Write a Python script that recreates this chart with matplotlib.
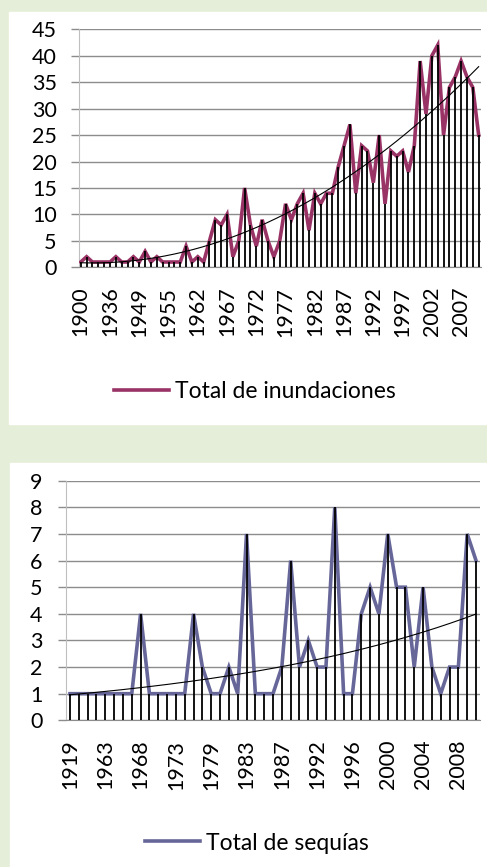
import numpy as np
import matplotlib
matplotlib.use("Agg")
import matplotlib.pyplot as plt
from matplotlib.patches import Rectangle

plt.rcParams['font.family'] = ['Lato', 'DejaVu Sans']

# --- datos: inundaciones ---
anios_inund = [1900, 1910, 1920, 1926, 1932, 1936, 1939, 1942, 1944, 1946,
               1949, 1950, 1951, 1952, 1953, 1955, 1956, 1958, 1959, 1960] + list(range(1962, 2011))
total_inund = [1, 2, 1, 1, 1, 1, 2, 1, 1, 2,
               1, 3, 1, 2, 1, 1, 1, 1, 4, 1,
               2, 1, 5, 9, 8, 10, 2, 5, 15, 8,
               4, 9, 5, 2, 5, 12, 9, 12, 14, 7,
               14, 12, 14, 14, 19, 23, 27, 14, 23, 22,
               16, 25, 12, 22, 21, 22, 18, 23, 39, 29,
               40, 42, 25, 34, 36, 39, 36, 34, 25]

# --- datos: sequias ---
anios_seq = [1919, 1925, 1946, 1956, 1963, 1964, 1965, 1966, 1968, 1969,
             1970, 1971, 1973, 1974, 1976, 1977, 1979, 1980, 1981, 1982,
             1983, 1984, 1985, 1986, 1987, 1988, 1989, 1990, 1992, 1993,
             1994, 1995, 1996, 1997, 1998, 1999, 2000, 2001, 2002, 2003,
             2004, 2005, 2006, 2007, 2008, 2009, 2010]
total_seq = [1, 1, 1, 1, 1, 1, 1, 1, 4, 1,
             1, 1, 1, 1, 4, 2, 1, 1, 2, 1,
             7, 1, 1, 1, 2, 6, 2, 3, 2, 2,
             8, 1, 1, 4, 5, 4, 7, 5, 5, 2,
             5, 2, 1, 2, 2, 7, 6]

VERDE = '#E5EED8'
GRIS = '#8C8C8C'

fig = plt.figure(figsize=(4.87, 8.67), dpi=100, facecolor=VERDE)
fig.patches.append(Rectangle((9 / 487, 1 - 424 / 867), 1, 412 / 867,
                             transform=fig.transFigure, color='white', zorder=-10))
fig.patches.append(Rectangle((10 / 487, 0), 1, (867 - 463) / 867,
                             transform=fig.transFigure, color='white', zorder=-10))


def panel(rect, anios, valores, color, ymax, paso, cada, xlim, tendencia, etiqueta, ley_pos, ypad):
    ax = fig.add_axes(rect)
    ax.set_facecolor('none')
    x = np.arange(len(valores))
    v = np.array(valores, dtype=float)

    ax.plot(x, v, color=color, lw=2.6, solid_joinstyle='miter', zorder=3, label=etiqueta)
    ax.vlines(x, 0, v, color='black', lw=1.3, zorder=4)

    # linea de tendencia (como en Excel)
    xx = np.linspace(0, len(v) - 1, 300)
    if tendencia == 'poly':
        c = np.polyfit(x, v, 2)
        yy = np.polyval(c, xx)
    else:
        b, a = np.polyfit(x, np.log(v), 1)
        yy = np.exp(a + b * xx)
    ax.plot(xx, yy, color='black', lw=0.8, zorder=5)

    ax.set_xlim(*xlim)
    ax.set_ylim(0, ymax)
    ax.set_yticks(np.arange(0, ymax + 0.1, paso))
    ax.yaxis.grid(True, color=GRIS, lw=1.0)
    ax.set_axisbelow(True)
    ax.tick_params(axis='y', length=6, color=GRIS, width=1.0, pad=ypad, labelsize=15.5)
    ax.set_xticks(x[::cada])
    ax.set_xticklabels([str(a) for a in anios[::cada]], rotation=90)
    ax.tick_params(axis='x', length=0, pad=14, labelsize=15.5)
    for s in ['top', 'right']:
        ax.spines[s].set_visible(False)
    ax.spines['left'].set_color('#BFBFBF')
    ax.spines['bottom'].set_color(GRIS)

    fig.legend(handles=ax.get_lines()[:1], loc='center', bbox_to_anchor=ley_pos,
               frameon=False, fontsize=16.5, handlelength=2.4, handletextpad=0.25)
    return ax


panel([79 / 487, 1 - 267.3 / 867, 402 / 487, 238 / 867], anios_inund, total_inund,
      '#993366', 45, 5, 5, (-0.3, 68.4), 'poly', 'Total de inundaciones',
      (255 / 487, 1 - 392 / 867), 10)

panel([66 / 487, 1 - 720.3 / 867, 414 / 487, 239.6 / 867], anios_seq, total_seq,
      '#666699', 9, 1, 4, (-0.45, 46.45), 'exp', 'Total de sequías',
      (257 / 487, 1 - 843 / 867), 11)

fig.savefig('out.png', dpi=100, facecolor=VERDE)
